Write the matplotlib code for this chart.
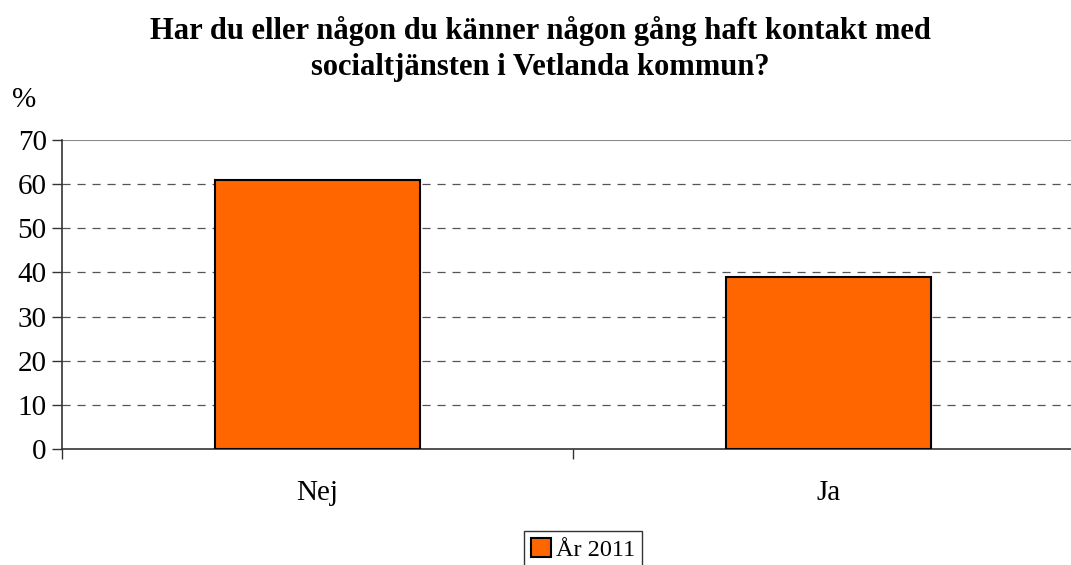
import matplotlib
matplotlib.use("Agg")
import matplotlib.pyplot as plt
from matplotlib.patches import Patch

categories = ["Nej", "Ja"]
values = [61, 39]
series_name = "År 2011"
yticks = [0, 10, 20, 30, 40, 50, 60, 70]
title = "Har du eller någon du känner någon gång haft kontakt med\nsocialtjänsten i Vetlanda kommun?"

plt.rcParams['font.family'] = ['Liberation Serif', 'DejaVu Serif']

fig = plt.figure(figsize=(10.71, 5.65), dpi=100)
ax = fig.add_axes([62/1071, 1-449/565, 1022/1071, (449-140)/565])

x = list(range(len(categories)))
ax.bar(x, values, width=0.4, color="#FF6600", edgecolor="black", linewidth=1.5, zorder=3)

ax.set_yticks(yticks)
ax.set_yticklabels([str(t) for t in yticks], fontsize=21)
for t in yticks[1:-1]:
    ax.axhline(t, color="#555555", linestyle=(0, (6.5, 5.5)), linewidth=0.9, zorder=1)
ax.axhline(70, color="#888888", linewidth=1.5, zorder=1)

ax.set_xticks([i - 0.5 for i in range(len(categories)+1)])
ax.set_xticklabels([])
ax.set_xticks(x, minor=True)
ax.set_xticklabels(categories, minor=True, fontsize=21)
ax.tick_params(axis='x', which='minor', length=0, pad=22)
ax.tick_params(axis='x', which='major', length=7, width=1, color="#333333", direction='out')
ax.tick_params(axis='y', length=7, width=1, color="#333333", direction='out', pad=4)
ax.set_xlim(-0.5, len(categories)-0.5)
ax.set_ylim(0, 70)

for s in ['top', 'right']:
    ax.spines[s].set_visible(False)
ax.spines['left'].set_color("#333333")
ax.spines['bottom'].set_color("#333333")
ax.spines['left'].set_linewidth(1.2)
ax.spines['bottom'].set_linewidth(1.2)

fig.text(540/1071, 1-49/565, title, ha='center', va='center', fontsize=22, fontweight='bold', linespacing=1.3)
fig.text(12/1071, 1-100/565, "%", ha='left', va='center', fontsize=21)

handle = Patch(facecolor="#FF6600", edgecolor="black", linewidth=1.5)
leg = fig.legend([handle], [series_name], loc='upper center', bbox_to_anchor=(583/1071, 1-531/565),
                 fontsize=17.5, frameon=True, fancybox=False, edgecolor="black",
                 handlelength=0.8, handleheight=0.8, handletextpad=0.2, borderpad=0.3, borderaxespad=0)
leg.get_frame().set_linewidth(1.0)

fig.savefig("out.png", dpi=100)
